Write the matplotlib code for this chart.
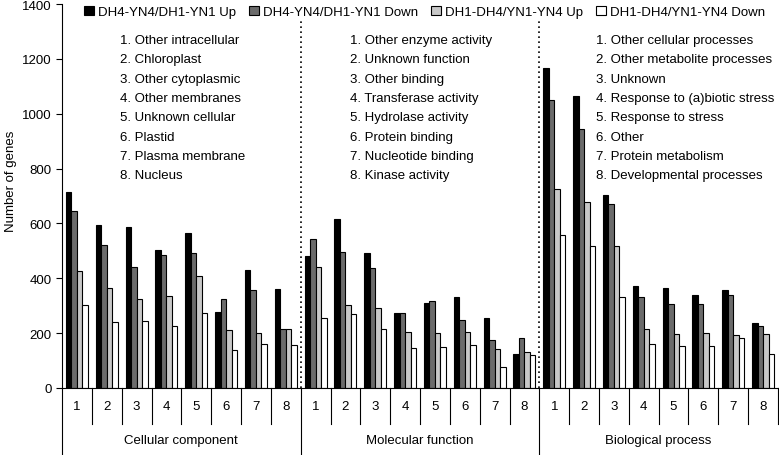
import numpy as np
import matplotlib
matplotlib.use("Agg")
import matplotlib.pyplot as plt
from matplotlib.patches import Patch

plt.rcParams["font.family"] = ["Liberation Sans", "DejaVu Sans"]

SERIES = ["DH4-YN4/DH1-YN1 Up", "DH4-YN4/DH1-YN1 Down",
          "DH1-DH4/YN1-YN4 Up", "DH1-DH4/YN1-YN4 Down"]
COLORS = ["#000000", "#6b6b6b", "#c8c8c8", "#ffffff"]
GROUPS = ["Cellular component", "Molecular function", "Biological process"]
CAT_LABELS = ["1", "2", "3", "4", "5", "6", "7", "8"]

cellular_terms = ["1. Other intracellular", "2. Chloroplast", "3. Other cytoplasmic",
                  "4. Other membranes", "5. Unknown cellular", "6. Plastid",
                  "7. Plasma membrane", "8. Nucleus"]
molecular_terms = ["1. Other enzyme activity", "2. Unknown function", "3. Other binding",
                   "4. Transferase activity", "5. Hydrolase activity", "6. Protein binding",
                   "7. Nucleotide binding", "8. Kinase activity"]
biological_terms = ["1. Other cellular processes", "2. Other metabolite processes",
                    "3. Unknown", "4. Response to (a)biotic stress", "5. Response to stress",
                    "6. Other", "7. Protein metabolism", "8. Developmental processes"]

# values per category (cellular 1-8, molecular 1-8, biological 1-8)
up_a = [713, 594, 587, 503, 564, 278, 431, 362,
        480, 617, 492, 272, 310, 332, 255, 125,
        1167, 1065, 702, 371, 363, 339, 356, 237]
down_a = [644, 520, 441, 486, 493, 326, 356, 214,
          543, 496, 437, 274, 318, 249, 176, 182,
          1049, 944, 672, 331, 307, 307, 339, 225]
up_b = [428, 363, 326, 334, 409, 210, 200, 214,
        442, 303, 290, 204, 200, 204, 141, 131,
        725, 679, 516, 214, 196, 200, 193, 196]
down_b = [303, 242, 245, 227, 272, 140, 162, 158,
          255, 270, 214, 147, 151, 158, 78, 120,
          558, 516, 331, 159, 154, 154, 181, 125]

fig = plt.figure(figsize=(7.79, 4.56), dpi=100)
ax = fig.add_axes([62 / 779, 67 / 456, 716 / 779, 384 / 456])

x = np.arange(24)
w = 0.185
for i, (vals, c) in enumerate(zip([up_a, down_a, up_b, down_b], COLORS)):
    ax.bar(x + (i - 1.5) * w, vals, w, color=c, edgecolor="black", linewidth=0.8)

ax.set_xlim(-0.5, 23.5)
ax.set_ylim(0, 1400)
ax.set_yticks(range(0, 1401, 200))
ax.tick_params(axis="y", direction="out", length=4, labelsize=9.5, width=0.8)
ax.set_xticks([])
for s in ["top", "right"]:
    ax.spines[s].set_visible(False)
ax.spines["left"].set_linewidth(0.8)
ax.spines["bottom"].set_linewidth(0.8)
ax.set_ylabel("Number of genes", fontsize=9.5)
ax.yaxis.set_label_coords(-0.063, 0.54)

# dotted group separators inside the plot
for b in [7.5, 15.5]:
    ax.plot([b, b], [0, 1345], color="black", lw=1.2, ls=(0, (1, 2)))

# category number row and group label row below the axis
tr = ax.get_xaxis_transform()
row1 = -36 / 384
bottom = -67 / 384
for k in range(1, 25):
    b = k - 0.5
    yb = bottom if b in (7.5, 15.5) else row1
    ax.plot([b, b], [0, yb], color="black", lw=0.8, transform=tr, clip_on=False)
ax.plot([-0.5, -0.5], [0, bottom], color="black", lw=0.8, transform=tr, clip_on=False)
for j in range(24):
    ax.text(j, -18 / 384, CAT_LABELS[j % 8], transform=tr, ha="center", va="center",
            fontsize=9.5)
for g, name in enumerate(GROUPS):
    ax.text(g * 8 + 3.5, -52 / 384, name, transform=tr, ha="center", va="center",
            fontsize=9.5)

# term lists
term_x = [1.44, 9.15, 17.4]
for tx, terms in zip(term_x, [cellular_terms, molecular_terms, biological_terms]):
    for i, t in enumerate(terms):
        ypix = 41 + i * 19.3
        ax.text(tx, (389 - ypix) / 0.2743, t, ha="left", va="center", fontsize=9.5)

handles = [Patch(facecolor=c, edgecolor="black", linewidth=0.8) for c in COLORS]
fig.legend(handles, SERIES, ncol=4, loc="center left",
           bbox_to_anchor=(84 / 779, 1 - 13 / 456), frameon=False, fontsize=9.5,
           handlelength=0.75, handleheight=0.75, handletextpad=0.3,
           columnspacing=1.0, borderpad=0, borderaxespad=0)

fig.savefig("out.png", dpi=100)
